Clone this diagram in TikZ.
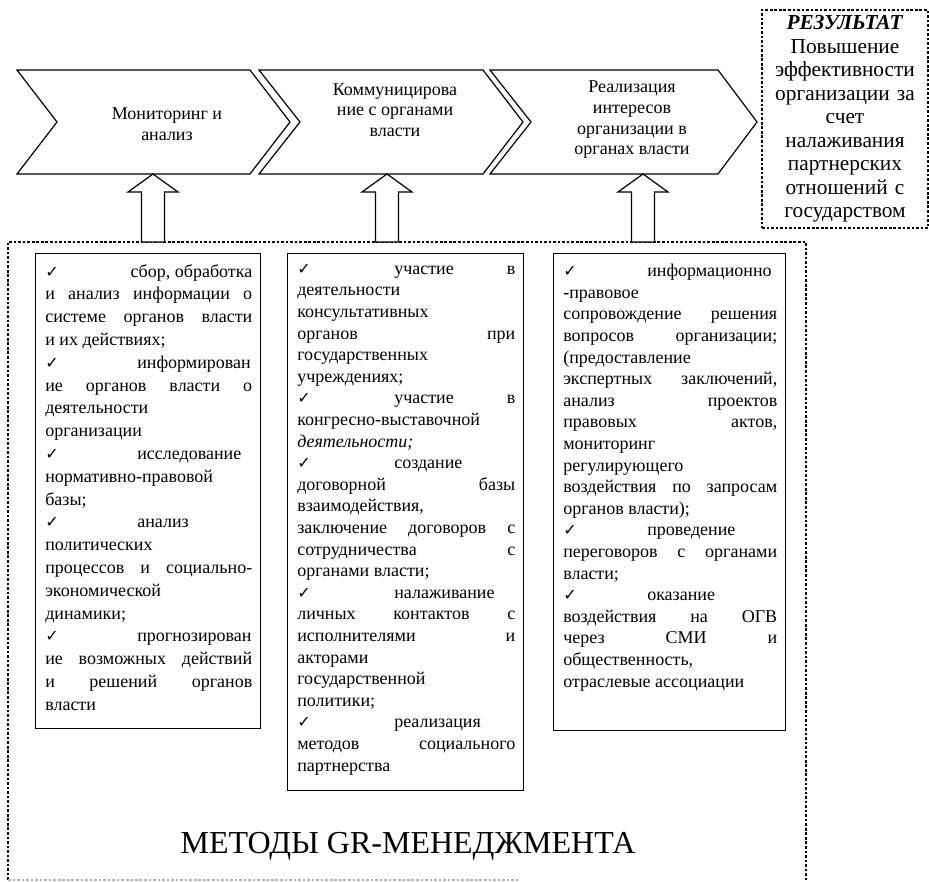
\documentclass[tikz,border=0pt]{standalone}
\usepackage{fontspec}
\setmainfont{Liberation Serif}
\newfontfamily\symf{DejaVu Sans}
\usetikzlibrary{calc}
\setlength\parindent{0pt}
\newlength\bw
\newlength\tw
\newlength\rw
\newcommand\boxdims[2]{\setlength\bw{#1}\setlength\tw{#2}\setlength\rw{\dimexpr#1-#2\relax}\setlength\parindent{0pt}\spaceskip=0pt\xspaceskip=0pt\relax}
\newcommand\ckm{{\symf\fontsize{12}{12}\selectfont ✓}}
\newcommand\J[1]{\makebox[\bw][s]{#1}}
\newcommand\CK[1]{\makebox[\tw][l]{\ckm}#1}
\newcommand\CKS[1]{\makebox[\tw][l]{\ckm}\makebox[\rw][s]{#1}}
\newcommand\CKR[1]{\makebox[\bw]{\ckm\hfill #1}}
\newcommand\blockarrow[2]{%
  \draw[barrow] ($(#1)+(-11.5,0)$) -- ($(#2)+(-11.5,18)$) -- ($(#2)+(-25,18)$) -- (#2)
    -- ($(#2)+(25,18)$) -- ($(#2)+(11.5,18)$) -- ($(#1)+(11.5,0)$) -- cycle;}
\begin{document}
\begin{tikzpicture}[x=0.75pt,y=-0.75pt,
  chev/.style={draw, line width=0.9pt, fill=white, line join=miter},
  ctext/.style={align=center, font=\fontsize{13.5}{15.5}\selectfont, inner sep=0pt},
  barrow/.style={draw, line width=0.9pt, fill=white},
  dline/.style={line width=0.8pt, dash pattern=on 2pt off 1.4pt},
  mbox/.style={draw, line width=1.1pt, anchor=north west, inner sep=0pt},
  mtext/.style={anchor=north west, inner sep=0pt, align=left},
  restext/.style={draw, dline, align=center, text width=112.5pt, inner xsep=6pt,
     minimum height=163.5pt, font=\fontsize{16}{17.6}\selectfont}
]
\useasboundingbox (0,0) rectangle (929,882);
% chevrons
\draw[chev] (17,70) -- (250,70) -- (290,122) -- (250,174) -- (17,174) -- (57,122) -- cycle;
\draw[chev] (259,70) -- (483,70) -- (523,122) -- (483,174) -- (259,174) -- (300,122) -- cycle;
\draw[chev] (490,70) -- (718,70) -- (757,122) -- (718,174) -- (490,174) -- (531,122) -- cycle;
\node[ctext] (c1) at (167,124.5) {Мониторинг и\\анализ};
\node[ctext] (c2) at (395,110) {Коммуницирова\\ние с органами\\власти};
\node[ctext] (c3) at (632,120) {Реализация\\интересов\\организации в\\органах власти};
\coordinate (c1b) at (153,174);
\coordinate (c2b) at (387,174);
\coordinate (c3b) at (643,174);
% result
\node[restext] (res) at (845,119) {\textbf{\textit{РЕЗУЛЬТАТ}}\\Повышение\\эффективности\\организации за\\счет\\налаживания\\партнерских\\отношений с\\государством};
% methods frame
\node[anchor=north west, minimum width=598.5pt, minimum height=478.5pt, inner sep=0pt, outer sep=0pt] (meth) at (8,242) {};
\draw[dline] (meth.south west) -- (meth.north west) -- (meth.north east) -- (meth.south east);
\draw[dline, gray!60] (meth.south west) -- ++(512,0);
\coordinate (a1) at (c1b |- meth.north);
\coordinate (a2) at (c2b |- meth.north);
\coordinate (a3) at (c3b |- meth.north);
\blockarrow{a1}{c1b}
\blockarrow{a2}{c2b}
\blockarrow{a3}{c3b}
% boxes
\node[mbox, minimum width=168.75pt, minimum height=356.25pt] (b1) at (35,253) {};
\node[mbox, minimum width=177pt, minimum height=402.75pt] (b2) at (287,253) {};
\node[mbox, minimum width=174pt, minimum height=357.75pt] (b3) at (553,253) {};
\node[mtext, text width=155.25pt, font=\fontsize{13.5}{17.1}\selectfont] (t1) at ($(b1.north west)+(10,11)$) {\boxdims{155.25pt}{69pt}%
\CKR{сбор, обработка}\\
\J{и анализ информации о}\\
\J{системе органов власти}\\
и их действиях;\\
\CK{информирован}\\
\J{ие органов власти о}\\
деятельности\\
организации\\
\CK{исследование}\\
нормативно-правовой\\
базы;\\
\CK{анализ}\\
политических\\
\J{процессов и социально-}\\
экономической\\
динамики;\\
\CK{прогнозирован}\\
\J{ие возможных действий}\\
\J{и решений органов}\\
власти};
\node[mtext, text width=163.5pt, font=\fontsize{13.5}{16.2}\selectfont] (t2) at ($(b2.north west)+(10,11)$) {\boxdims{163.5pt}{72.75pt}%
\CKS{участие в}\\
деятельности\\
консультативных\\
\J{органов при}\\
государственных\\
учреждениях;\\
\CKS{участие в}\\
конгресно-выставочной\\
\textit{деятельности;}\\
\CK{создание}\\
\J{договорной базы}\\
взаимодействия,\\
\J{заключение договоров с}\\
\J{сотрудничества с}\\
органами власти;\\
\CK{налаживание}\\
\J{личных контактов с}\\
\J{исполнителями и}\\
акторами\\
государственной\\
политики;\\
\CK{реализация}\\
\J{методов социального}\\
партнерства};
\node[mtext, text width=160.5pt, font=\fontsize{13.5}{16.2}\selectfont] (t3) at ($(b3.north west)+(10,11)$) {\boxdims{160.5pt}{63pt}%
\CK{информационно}\\
-правовое\\
\J{сопровождение решения}\\
\J{вопросов организации;}\\
(предоставление\\
\J{экспертных заключений,}\\
\J{анализ проектов}\\
\J{правовых актов,}\\
мониторинг\\
регулирующего\\
\J{воздействия по запросам}\\
органов власти);\\
\CK{проведение}\\
\J{переговоров с органами}\\
власти;\\
\CK{оказание}\\
\J{воздействия на ОГВ}\\
\J{через СМИ и}\\
общественность,\\
отраслевые ассоциации};
\node[font=\fontsize{24}{28}\selectfont, inner sep=0pt] (title) at (408,846) {МЕТОДЫ GR-МЕНЕДЖМЕНТА};
\end{tikzpicture}
\end{document}
